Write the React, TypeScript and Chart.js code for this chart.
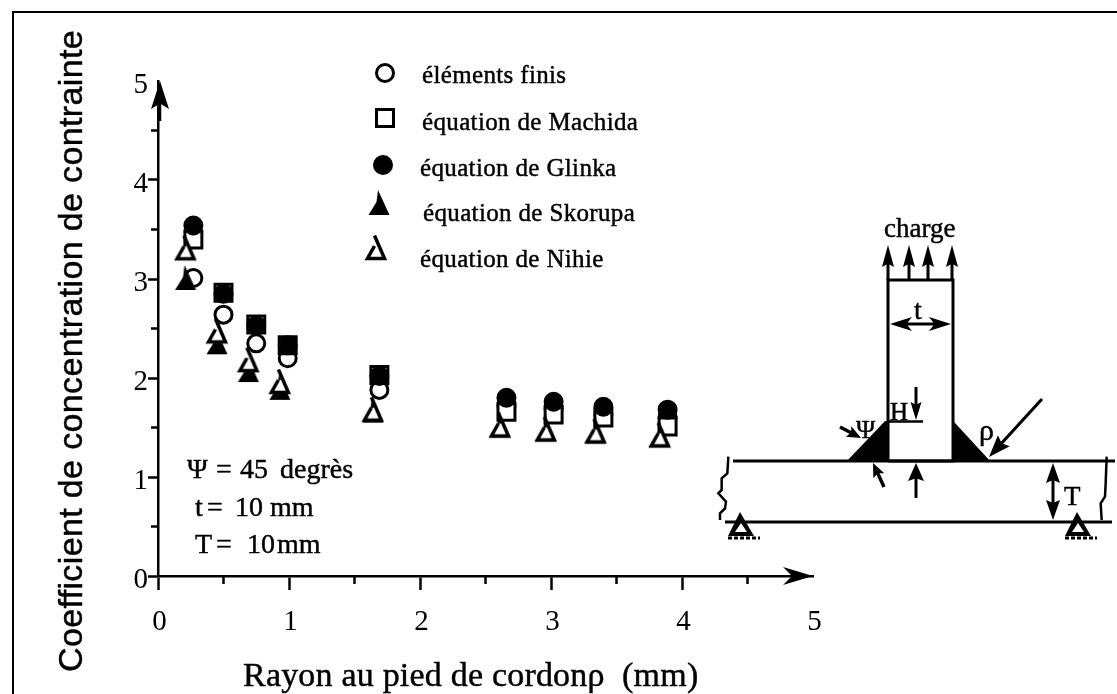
import React, { useEffect, useRef } from "react";
import { Chart, registerables } from "chart.js";
import { drawPoint } from "chart.js/helpers";

Chart.register(...registerables);

const rayonRight = [0.27, 0.5, 0.75, 0.99, 1.69, 2.66, 3.02, 3.4, 3.89];
const rayonLeft = [0.21, 0.45, 0.69, 0.93, 1.64, 2.61, 2.96, 3.34, 3.83];
const elementsFinis = [3.01, 2.64, 2.35, 2.2, 1.88, 1.72, 1.69, 1.63, 1.6];
const machida = [3.4, 2.86, 2.54, 2.33, 2.03, 1.66, 1.63, 1.6, 1.51];
const glinka = [3.54, 2.85, 2.53, 2.33, 2.02, 1.8, 1.76, 1.71, 1.68];
const skorupa = [2.96, 2.31, 2.03, 1.85, 1.62, 1.47, 1.43, 1.41, 1.37];
const nihie = [3.26, 2.42, 2.13, 1.91, 1.63, 1.47, 1.43, 1.41, 1.37];
const seriesNames = [
  "éléments finis",
  "équation de Machida",
  "équation de Glinka",
  "équation de Skorupa",
  "équation de Nihie",
];
const xAxisTitle = "Rayon au pied de cordonρ  (mm)";
const yAxisTitle = "Coefficient de concentration de contrainte";

const SERIF = '"Liberation Serif", serif';
const SANS = '"Liberation Sans", sans-serif';

function spikeTriangle(filled: boolean): HTMLCanvasElement {
  const c = document.createElement("canvas");
  c.width = 24;
  c.height = 36;
  const g = c.getContext("2d")!;
  g.strokeStyle = "#000";
  g.fillStyle = "#000";
  g.lineJoin = "miter";
  if (filled) {
    g.beginPath();
    g.moveTo(1.5, 25);
    g.lineTo(9.5, 12);
    g.lineTo(11, 0);
    g.lineTo(22.5, 25);
    g.closePath();
    g.fill();
  } else {
    g.lineWidth = 3.5;
    g.beginPath();
    g.moveTo(3.5, 23.5);
    g.lineTo(10.5, 11);
    g.lineTo(15.5, 11);
    g.lineTo(20.5, 23.5);
    g.closePath();
    g.fillStyle = "#fff";
    g.fill();
    g.beginPath();
    g.moveTo(10.5, 0.5);
    g.lineTo(20.5, 23.5);
    g.lineTo(3.5, 23.5);
    g.lineTo(10.5, 11);
    g.stroke();
  }
  return c;
}

function pts(xs: number[], ys: number[]) {
  return xs.map((x, i) => ({ x, y: ys[i] }));
}

function arrow(
  ctx: CanvasRenderingContext2D,
  x1: number,
  y1: number,
  x2: number,
  y2: number,
  len: number,
  half: number,
  lw = 2.5,
  notch = 0.25
) {
  const a = Math.atan2(y2 - y1, x2 - x1);
  const ca = Math.cos(a);
  const sa = Math.sin(a);
  ctx.lineWidth = lw;
  ctx.beginPath();
  ctx.moveTo(x1, y1);
  ctx.lineTo(x2 - ca * len * 0.5, y2 - sa * len * 0.5);
  ctx.stroke();
  ctx.beginPath();
  ctx.moveTo(x2, y2);
  ctx.lineTo(x2 - ca * len - sa * half, y2 - sa * len + ca * half);
  ctx.lineTo(x2 - ca * len * (1 - notch), y2 - sa * len * (1 - notch));
  ctx.lineTo(x2 - ca * len + sa * half, y2 - sa * len - ca * half);
  ctx.closePath();
  ctx.fill();
}

function line(ctx: CanvasRenderingContext2D, p: number[][], lw = 2.5) {
  ctx.lineWidth = lw;
  ctx.beginPath();
  p.forEach(([x, y], i) => (i ? ctx.lineTo(x, y) : ctx.moveTo(x, y)));
  ctx.stroke();
}

function poly(ctx: CanvasRenderingContext2D, p: number[][]) {
  ctx.beginPath();
  p.forEach(([x, y], i) => (i ? ctx.lineTo(x, y) : ctx.moveTo(x, y)));
  ctx.closePath();
  ctx.fill();
}

function text(
  ctx: CanvasRenderingContext2D,
  s: string,
  x: number,
  y: number,
  font: string,
  spacing = 0
) {
  ctx.font = font;
  (ctx as any).letterSpacing = spacing + "px";
  ctx.textAlign = "left";
  ctx.textBaseline = "alphabetic";
  ctx.fillStyle = "#000";
  ctx.strokeStyle = "#000";
  ctx.lineWidth = 0.45;
  ctx.fillText(s, x, y);
  ctx.strokeText(s, x, y);
  (ctx as any).letterSpacing = "0px";
}

function drawSupport(ctx: CanvasRenderingContext2D, x: number) {
  ctx.fillStyle = "#000";
  poly(ctx, [
    [x - 13, 536],
    [x - 1, 512],
    [x + 13, 536],
  ]);
  ctx.fillStyle = "#fff";
  poly(ctx, [
    [x - 6, 532],
    [x, 523],
    [x + 6, 532],
  ]);
  ctx.fillStyle = "#000";
  ctx.setLineDash([4, 2]);
  line(ctx, [
    [x - 13, 538],
    [x + 19, 538],
  ], 3);
  ctx.setLineDash([]);
}

function drawDiagram(ctx: CanvasRenderingContext2D) {
  ctx.strokeStyle = "#000";
  ctx.fillStyle = "#000";
  ctx.lineCap = "butt";
  // web
  line(ctx, [
    [888, 461],
    [888, 280],
    [953, 280],
    [953, 461],
    [888, 461],
  ], 3);
  // plate
  line(ctx, [
    [733, 461],
    [1115, 461],
  ], 3);
  line(ctx, [
    [725, 522],
    [1112, 522],
  ], 3);
  // welds
  poly(ctx, [
    [846, 462],
    [885, 421],
    [889, 421],
    [889, 462],
  ]);
  poly(ctx, [
    [953, 421],
    [955, 423],
    [991, 462],
    [953, 462],
  ]);
  // load arrows
  [888, 909, 928, 952].forEach((x) => {
    ctx.fillStyle = "#000";
    arrow(ctx, x, 280, x, 245, 22, 6, 3, 0.15);
  });
  text(ctx, "charge", 884, 237, "27px " + SERIF);
  // t dimension
  arrow(ctx, 920, 324, 890, 324, 22, 7, 3, 0.25);
  arrow(ctx, 920, 324, 951, 324, 22, 7, 3, 0.25);
  text(ctx, "t", 914, 319, "28px " + SERIF);
  // H
  line(ctx, [
    [888, 421.5],
    [923, 421.5],
  ], 2.5);
  text(ctx, "H", 890, 420, "25px " + SERIF);
  ctx.fillStyle = "#000";
  arrow(ctx, 916, 387, 916, 420, 18, 5.5, 3, 0.15);
  arrow(ctx, 916, 498, 916, 463, 18, 8, 3, 0.15);
  // psi
  text(ctx, "Ψ", 856, 438, "26px " + SERIF);
  ctx.fillStyle = "#000";
  arrow(ctx, 840, 427, 861, 438, 14, 6, 3.5, 0.2);
  arrow(ctx, 884, 487, 873, 463, 14, 6, 3.5, 0.2);
  // rho
  text(ctx, "ρ", 979, 440, "30px " + SERIF);
  ctx.fillStyle = "#000";
  arrow(ctx, 1042, 399, 989, 457, 22, 8, 3, 0.15);
  // T
  arrow(ctx, 1053, 490, 1053, 463, 20, 7, 3, 0.15);
  arrow(ctx, 1053, 490, 1053, 520, 20, 7, 3, 0.15);
  text(ctx, "T", 1064, 505, "27px " + SERIF);
  // breaks
  ctx.strokeStyle = "#000";
  const brk = (p: number[][]) =>
    line(ctx, p.map(([x, y]) => [710 + x / 3, 230 + y / 3]), 2.5);
  brk([
    [55, 680],
    [52, 730],
    [35, 745],
    [35, 780],
    [25, 790],
    [48, 815],
    [45, 835],
    [30, 850],
    [30, 870],
  ]);
  brk([
    [1190, 680],
    [1187, 760],
    [1185, 800],
    [1172, 820],
    [1175, 870],
  ]);
  drawSupport(ctx, 741);
  drawSupport(ctx, 1078);
}

export default function App() {
  const ref = useRef<HTMLCanvasElement>(null);
  useEffect(() => {
    const triFilled = spikeTriangle(true);
    const triOpen = spikeTriangle(false);

    const styles = [
      { pointStyle: "circle", pointRadius: 8.5, pointBackgroundColor: "#fff", pointBorderWidth: 3 },
      { pointStyle: "rect", pointRadius: 12, pointBackgroundColor: "#fff", pointBorderWidth: 3 },
      { pointStyle: "circle", pointRadius: 8.5, pointBackgroundColor: "#000", pointBorderWidth: 3 },
      { pointStyle: triFilled, pointRadius: 10, pointBackgroundColor: "#000", pointBorderWidth: 0 },
      { pointStyle: triOpen, pointRadius: 10, pointBackgroundColor: "#fff", pointBorderWidth: 0 },
    ];

    const paint = {
      id: "paint",
      afterDraw(chart: any) {
        const ctx: CanvasRenderingContext2D = chart.ctx;
        const xs = chart.scales.x;
        const ys = chart.scales.y;
        const x0 = xs.getPixelForValue(0);
        const y0 = ys.getPixelForValue(0);
        ctx.save();
        ctx.strokeStyle = "#000";
        ctx.fillStyle = "#000";
        // frame of the scanned page
        line(ctx, [
          [13, 694],
          [13, 12],
          [1117, 12],
        ], 2);
        // minor ticks
        [0, 1, 2, 3, 4].forEach((v) => {
          const px = xs.getPixelForValue(v + 0.5);
          line(ctx, [
            [px, y0],
            [px, y0 + 8],
          ]);
          const py = ys.getPixelForValue(v + 0.5);
          line(ctx, [
            [x0, py],
            [x0 - 7, py],
          ]);
        });
        // axis arrow heads
        const xEnd = xs.getPixelForValue(5);
        const yEnd = ys.getPixelForValue(5);
        arrow(ctx, xEnd - 20, y0, xEnd, y0, 30, 9, 2.5, 0.3);
        arrow(ctx, x0 + 2, yEnd + 40, x0 + 2, yEnd, 28, 9, 2.5, 0.2);
        // titles
        text(ctx, xAxisTitle, 243, 686, "34px " + SERIF, 0.2);
        ctx.save();
        ctx.translate(82, 672);
        ctx.rotate(-Math.PI / 2);
        text(ctx, yAxisTitle, 0, 0, "34px " + SANS, 0.36);
        ctx.restore();
        // legend
        const rows = [
          [385, 73, 422, 83],
          [385, 118, 422, 130],
          [383, 165, 420, 176],
          [379, 208, 423, 221],
          [376, 253, 420, 267],
        ];
        rows.forEach(([mx, my, tx, ty], i) => {
          const st = styles[i];
          ctx.fillStyle = st.pointBackgroundColor;
          ctx.strokeStyle = "#000";
          ctx.lineWidth = st.pointBorderWidth;
          drawPoint(
            ctx,
            { pointStyle: st.pointStyle, radius: st.pointRadius, rotation: 0, borderWidth: st.pointBorderWidth } as any,
            mx,
            my
          );
          text(ctx, seriesNames[i], tx, ty, "25px " + SERIF, 0.35);
        });
        // parameters
        const f = "28px " + SERIF;
        text(ctx, "Ψ", 187, 478, f);
        text(ctx, "=", 216, 478, f);
        text(ctx, "45", 240, 478, f);
        text(ctx, "degrès", 280, 478, f);
        text(ctx, "t", 195, 516, f);
        text(ctx, "=", 207, 516, f);
        text(ctx, "10", 235, 516, f);
        text(ctx, "mm", 270, 516, f);
        text(ctx, "T", 195, 553, f);
        text(ctx, "=", 216, 553, f);
        text(ctx, "10", 247, 553, f);
        text(ctx, "mm", 277, 553, f);
        drawDiagram(ctx);
        ctx.restore();
      },
    };

    const hideEnd = (c: any) => (c.tick && c.tick.value === 5 ? "rgba(0,0,0,0)" : "#000");
    const values = [elementsFinis, machida, glinka, skorupa, nihie];
    const chart = new Chart(ref.current!, {
      type: "scatter",
      data: {
        datasets: seriesNames.map((label, i) => ({
          label,
          data: pts(i < 3 ? rayonRight : rayonLeft, values[i]),
          order: 5 - i,
          showLine: false,
          pointBorderColor: "#000",
          pointHoverRadius: styles[i].pointRadius,
          ...styles[i],
        })),
      } as any,
      options: {
        animation: false,
        responsive: false,
        clip: false,
        layout: { padding: { left: 0, top: 81, right: 304, bottom: 0 } },
        plugins: { legend: { display: false }, tooltip: { enabled: false }, title: { display: false } },
        scales: {
          x: {
            type: "linear",
            min: 0,
            max: 5,
            afterFit: (s: any) => {
              s.height = 118;
            },
            border: { color: "#000", width: 2.5 },
            grid: { drawOnChartArea: false, tickLength: 14, tickColor: hideEnd, tickWidth: 2.5 },
            ticks: {
              stepSize: 1,
              color: "#000",
              padding: 15,
              maxRotation: 0,
              labelOffset: 1.5,
              font: { family: "Liberation Serif", size: 29 },
            },
          },
          y: {
            type: "linear",
            min: 0,
            max: 5,
            afterFit: (s: any) => {
              s.width = 158;
            },
            border: { color: "#000", width: 2.5 },
            grid: { drawOnChartArea: false, tickLength: 10, tickColor: hideEnd, tickWidth: 2.5 },
            ticks: {
              stepSize: 1,
              color: "#000",
              padding: 0,
              labelOffset: 4,
              font: { family: "Liberation Serif", size: 29 },
            },
          },
        },
      } as any,
      plugins: [paint],
    });
    return () => chart.destroy();
  }, []);
  return (
    <div style={{ position: "fixed", left: 0, top: 0, width: 1117, height: 694, background: "#fff" }}>
      <canvas ref={ref} width={1117} height={694} style={{ display: "block" }} />
    </div>
  );
}
